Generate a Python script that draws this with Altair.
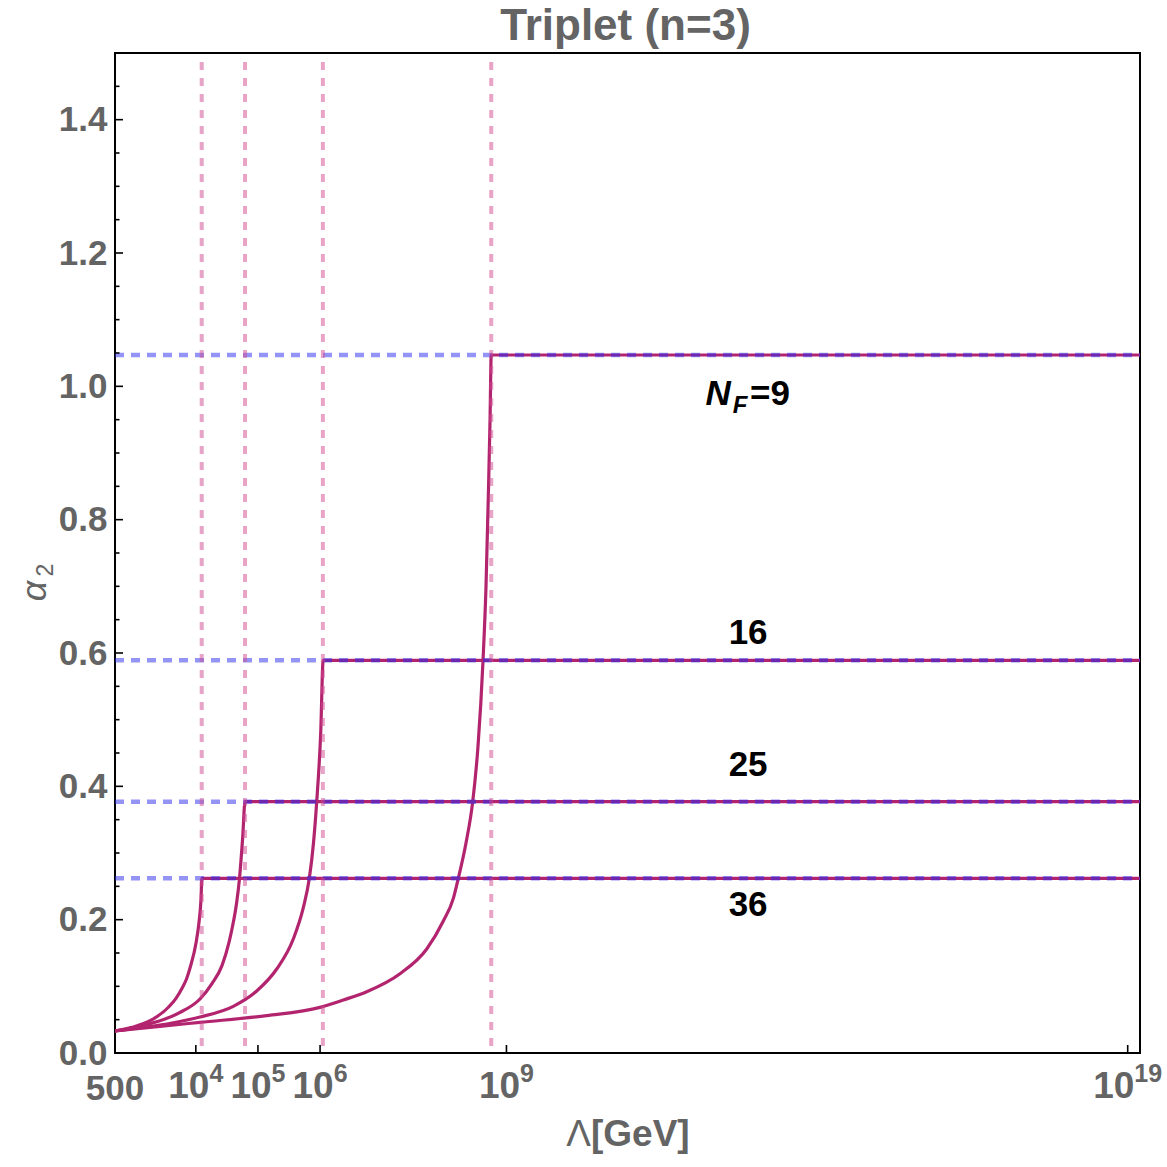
import altair as alt
import pandas as pd

# ---------------- data ----------------
# x values are log10(Lambda / GeV), y values are alpha_2
NF_LABELS = ["9", "16", "25", "36"]
PLATEAU = [1.047, 0.589, 0.377, 0.262]            # alpha_2 plateau for each N_F
POLE_LOG = [8.755, 6.045, 4.792, 4.095]           # log10 Lambda of the vertical dashed lines
LOG_MIN = 2.699                                   # 500 GeV
LOG_MAX = 19.198

C9_LOG = [2.699, 3.423, 4.067, 5.141, 5.999, 6.374, 6.751, 7.287, 7.717, 7.984, 8.145,
          8.225, 8.349, 8.457, 8.542, 8.623, 8.671, 8.708, 8.736, 8.755, 19.198]
C9_A = [0.033, 0.040, 0.046, 0.056, 0.0685, 0.0795, 0.092, 0.119, 0.156, 0.198, 0.232,
        0.262, 0.315, 0.377, 0.46, 0.589, 0.70, 0.834, 0.95, 1.047, 1.047]

C16_LOG = [2.699, 3.617, 4.067, 4.603, 4.980, 5.302, 5.569, 5.730, 5.827, 5.894, 5.946,
           6.010, 6.050, 19.198]
C16_A = [0.033, 0.045, 0.054, 0.070, 0.093, 0.126, 0.171, 0.218, 0.262, 0.315, 0.377,
         0.48, 0.589, 0.589]

C25_LOG = [2.699, 3.187, 3.724, 4.067, 4.260, 4.421, 4.534, 4.582, 4.658, 4.703, 4.755,
           4.792, 19.198]
C25_A = [0.033, 0.042, 0.0598, 0.081, 0.104, 0.131, 0.166, 0.186, 0.226, 0.262, 0.3245,
         0.377, 0.377]

C36_LOG = [2.699, 2.973, 3.295, 3.563, 3.681, 3.778, 3.850, 3.911, 4.003, 4.056, 4.083,
           4.097, 19.198]
C36_A = [0.033, 0.0385, 0.050, 0.069, 0.082, 0.097, 0.111, 0.129, 0.165, 0.2, 0.23,
         0.262, 0.262]

Y_MAJOR = [0.0, 0.2, 0.4, 0.6, 0.8, 1.0, 1.2, 1.4]
Y_MINOR = [0.05, 0.1, 0.15, 0.25, 0.3, 0.35, 0.45, 0.5, 0.55, 0.65, 0.7, 0.75, 0.85, 0.9,
           0.95, 1.05, 1.1, 1.15, 1.25, 1.3, 1.35, 1.45]
X_TICK_LOG = [4, 5, 6, 9, 19]
X_EXP = ["4", "5", "6", "9", "19"]

LABEL_LOG = 12.89
LABEL_A = [0.63, 0.432, 0.222]      # "16", "25", "36"
NF9_A = 0.972

# ---------------- style ----------------
FONT = "Liberation Sans"
GRAY = "#646464"
MAG = "#b3246f"
W, H = 1025, 1000

xs = alt.Scale(type="log", domain=[10 ** LOG_MIN, 10 ** LOG_MAX], nice=False)
ys = alt.Scale(domain=[0, 1.5], nice=False, zero=False)
yaxis = alt.Axis(values=Y_MAJOR, format=".1f", ticks=False, domain=False, grid=False,
                 labelFontSize=35, labelFont=FONT, labelFontWeight="bold",
                 labelColor=GRAY, labelPadding=8, title=None)


def to_L(logs):
    return [10 ** v for v in logs]


rows = []
for nf, Ls, As in [("9", C9_LOG, C9_A), ("16", C16_LOG, C16_A),
                   ("25", C25_LOG, C25_A), ("36", C36_LOG, C36_A)]:
    for i, (l, a) in enumerate(zip(to_L(Ls), As)):
        rows.append({"NF": nf, "L": l, "a": a, "o": i})
curves_df = pd.DataFrame(rows)


def X():
    return alt.X("L:Q", scale=xs, axis=None)


def Y():
    return alt.Y("a:Q", scale=ys, axis=yaxis)


curves = alt.Chart(curves_df).mark_line(color=MAG, strokeWidth=3.2, interpolate="monotone",
                                        clip=True).encode(
    x=X(), y=Y(), detail="NF:N", order="o:Q")

hlines = alt.Chart(pd.DataFrame({"a": PLATEAU})).mark_rule(
    color="#2a2af0", opacity=0.5, strokeWidth=4.5, strokeDash=[9, 7]).encode(
    y=Y(), x=alt.value(0), x2=alt.value(W))

vlines = alt.Chart(pd.DataFrame({"L": to_L(POLE_LOG)})).mark_rule(
    color="#d04a90", opacity=0.5, strokeWidth=4, strokeDash=[8, 8]).encode(
    x=X(), y=alt.value(9), y2=alt.value(H))

ymaj = alt.Chart(pd.DataFrame({"a": Y_MAJOR})).mark_rule(color="black", strokeWidth=1.6).encode(
    y=Y(), x=alt.value(0), x2=alt.value(8))
ymin = alt.Chart(pd.DataFrame({"a": Y_MINOR})).mark_rule(color="black", strokeWidth=1.6).encode(
    y=Y(), x=alt.value(0), x2=alt.value(4.5))
xtk = alt.Chart(pd.DataFrame({"L": to_L(X_TICK_LOG)})).mark_rule(color="black", strokeWidth=1.6).encode(
    x=X(), y=alt.value(H - 8), y2=alt.value(H))

# x tick labels
lab500 = alt.Chart(pd.DataFrame({"L": [10 ** LOG_MIN], "t": ["500"]})).mark_text(
    font=FONT, fontSize=35, fontWeight="bold", color=GRAY, align="center", baseline="alphabetic").encode(
    x=X(), y=alt.value(1047), text="t:N")
tick_df1 = pd.DataFrame({"L": to_L(X_TICK_LOG[:4]), "e": X_EXP[:4], "b": ["10"] * 4})
tick_df2 = pd.DataFrame({"L": to_L(X_TICK_LOG[4:]), "e": X_EXP[4:], "b": ["10"]})


def base(df, dx):
    return alt.Chart(df).mark_text(font=FONT, fontSize=37, fontWeight="bold", color=GRAY,
                                   align="right", baseline="alphabetic", dx=dx).encode(
        x=X(), y=alt.value(1045), text="b:N")


def sup(df, dx):
    return alt.Chart(df).mark_text(font=FONT, fontSize=25, fontWeight="bold", color=GRAY,
                                   align="left", baseline="alphabetic", dx=dx).encode(
        x=X(), y=alt.value(1029), text="e:N")


# N_F labels
num_df = pd.DataFrame({"L": [10 ** LABEL_LOG] * 3, "a": LABEL_A, "t": NF_LABELS[1:]})
nums = alt.Chart(num_df).mark_text(font=FONT, fontSize=35, fontWeight="bold", color="black",
                                   align="center", baseline="middle").encode(
    x=X(), y=Y(), text="t:N")
nf_df = pd.DataFrame({"L": [10 ** LABEL_LOG], "a": [NF9_A], "n": ["N"], "f": ["F"],
                      "e": ["=" + NF_LABELS[0]]})
nN = alt.Chart(nf_df).mark_text(font=FONT, fontSize=35, fontWeight="bold", fontStyle="italic",
                                color="black", align="center", baseline="alphabetic", dx=-30).encode(
    x=X(), y=Y(), text="n:N")
nF = alt.Chart(nf_df).mark_text(font=FONT, fontSize=24, fontWeight="bold", fontStyle="italic",
                                color="black", align="center", baseline="alphabetic", dx=-8, dy=8).encode(
    x=X(), y=Y(), text="f:N")
nE = alt.Chart(nf_df).mark_text(font=FONT, fontSize=35, fontWeight="bold",
                                color="black", align="left", baseline="alphabetic", dx=2).encode(
    x=X(), y=Y(), text="e:N")


def one(t):
    return pd.DataFrame({"t": [t]})


title = alt.Chart(one("Triplet (n=3)")).mark_text(font=FONT, fontSize=44, fontWeight="bold", color=GRAY,
                                                   align="center", baseline="middle").encode(
    x=alt.value(W / 2 - 2), y=alt.value(-26), text="t:N")
xtitle_l = alt.Chart(one("Λ")).mark_text(font=FONT, fontSize=37, color=GRAY,
                                         align="right", baseline="middle").encode(
    x=alt.value(476), y=alt.value(1082), text="t:N")
xtitle_r = alt.Chart(one("[GeV]")).mark_text(font=FONT, fontSize=37, fontWeight="bold", color=GRAY,
                                             align="left", baseline="middle").encode(
    x=alt.value(476), y=alt.value(1082), text="t:N")
ytitle_a = alt.Chart(one("α")).mark_text(font=FONT, fontSize=36, fontStyle="italic", color=GRAY,
                                         align="center", baseline="middle", angle=270).encode(
    x=alt.value(-80), y=alt.value(538), text="t:N")
ytitle_2 = alt.Chart(one("2")).mark_text(font=FONT, fontSize=23, color=GRAY,
                                         align="center", baseline="middle", angle=270).encode(
    x=alt.value(-69), y=alt.value(517), text="t:N")

chart = alt.layer(
    curves, hlines, vlines, ymaj, ymin, xtk, lab500,
    base(tick_df1, 13.6), sup(tick_df1, 13.6), base(tick_df2, 6.6), sup(tick_df2, 6.6),
    nums, nN, nF, nE, title, xtitle_l, xtitle_r, ytitle_a, ytitle_2
).properties(
    width=W, height=H,
    padding={"left": 115, "top": 53, "right": 27, "bottom": 114},
    autosize=alt.AutoSizeParams(type="none"),
).configure_view(stroke="black", strokeWidth=2)

chart.save("out.html", embed_options={"renderer": "svg", "actions": False})
